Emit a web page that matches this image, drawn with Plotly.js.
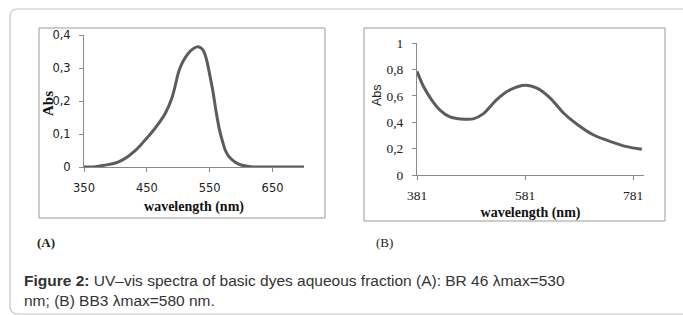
<!DOCTYPE html>
<html>
<head>
<meta charset="utf-8">
<script src="https://cdn.plot.ly/plotly-3.0.1.min.js"></script>
<style>html,body{margin:0;padding:0;background:#fff;}#chart{width:683px;height:315px;}</style>
</head>
<body>
<div id="chart"></div>
<script>
// Panel A: BR 46
var wavelengthA = [350, 365, 375, 390, 400, 410, 420, 430, 440, 450, 460, 470, 480, 490, 495, 500, 505, 510, 515, 520, 525, 530, 535, 540, 545, 550, 555, 560, 565, 570, 575, 580, 590, 600, 610, 620, 650, 700];
var absA =        [0, 0, 0.003, 0.008, 0.012, 0.02, 0.032, 0.047, 0.066, 0.088, 0.11, 0.135, 0.165, 0.21, 0.245, 0.285, 0.31, 0.328, 0.342, 0.353, 0.36, 0.364, 0.362, 0.352, 0.325, 0.28, 0.23, 0.17, 0.118, 0.08, 0.05, 0.033, 0.015, 0.006, 0.002, 0, 0, 0];
// Panel B: BB3
var wavelengthB = [381, 393, 408, 424, 442, 461, 485, 504, 528, 553, 582, 602, 627, 652, 677, 707, 738, 769, 797];
var absB =        [0.785, 0.67, 0.57, 0.49, 0.44, 0.425, 0.425, 0.465, 0.57, 0.645, 0.68, 0.66, 0.585, 0.47, 0.385, 0.305, 0.255, 0.215, 0.195];

var ticksA_x = [350, 450, 550, 650];
var ticksB_x = [381, 581, 781];
var titleX = 'wavelength (nm)';
var titleY = 'Abs';
var panelLabels = ['(A)', '(B)'];
var captionLine1 = '<b>Figure 2:</b> UV\u2013vis spectra of basic dyes aqueous fraction (A): BR 46 \u03bbmax=530';
var captionLine2 = 'nm; (B) BB3 \u03bbmax=580 nm.';

var W = 683, H = 315;
function px(x){ return x / W; }
function py(y){ return 1 - y / H; }

var lineColor = '#5c5c5c';
var axisColor = '#8a8a8a';
var serif = 'Liberation Serif, Times New Roman, serif';
var sans = 'Liberation Sans, Arial, sans-serif';

var traces = [
  {x: wavelengthA, y: absA, type: 'scatter', mode: 'lines', xaxis: 'x', yaxis: 'y',
   line: {color: lineColor, width: 3, shape: 'spline', smoothing: 0.7}, hoverinfo: 'skip'},
  {x: wavelengthB, y: absB, type: 'scatter', mode: 'lines', xaxis: 'x2', yaxis: 'y2',
   line: {color: lineColor, width: 3, shape: 'spline', smoothing: 0.8}, hoverinfo: 'skip'}
];

var baseAxis = {showgrid: false, zeroline: false, showline: true, linecolor: axisColor, linewidth: 1,
  ticks: 'outside', ticklen: 4, tickcolor: axisColor, tickwidth: 1, fixedrange: true};

var layout = {
  width: W, height: H,
  margin: {l: 0, r: 0, t: 0, b: 0},
  paper_bgcolor: '#fff', plot_bgcolor: 'rgba(0,0,0,0)',
  showlegend: false,
  separators: ', ',
  xaxis: Object.assign({}, baseAxis, {domain: [px(84), px(304)], range: [350, 700], anchor: 'y',
    tickvals: ticksA_x, ticklabelstandoff: 6, tickfont: {family: 'DejaVu Sans, sans-serif', size: 11.5, color: '#222'},
    title: {text: '<b>' + titleX + '</b>', font: {family: serif, size: 14, color: '#111'}, standoff: 7}}),
  yaxis: Object.assign({}, baseAxis, {domain: [py(167), py(35)], range: [0, 0.4], anchor: 'x',
    dtick: 0.1, tick0: 0, ticklabelstandoff: 6, tickfont: {family: 'DejaVu Sans, sans-serif', size: 11.5, color: '#222'}}),
  xaxis2: Object.assign({}, baseAxis, {domain: [px(417), px(644)], range: [381, 801], anchor: 'y2',
    tickvals: ticksB_x, ticklabelstandoff: 4, tickfont: {family: serif, size: 13.5, color: '#222'},
    title: {text: '<b>' + titleX + '</b>', font: {family: serif, size: 14, color: '#111'}, standoff: 4}}),
  yaxis2: Object.assign({}, baseAxis, {domain: [py(175), py(43)], range: [0, 1], anchor: 'x2',
    dtick: 0.2, tick0: 0, ticklabelstandoff: 6, tickfont: {family: serif, size: 13.5, color: '#222'}}),
  shapes: [
    {type: 'path', xref: 'paper', yref: 'paper',
     path: 'M ' + px(10) + ',' + py(17) + ' Q ' + px(10) + ',' + py(9) + ' ' + px(18) + ',' + py(9) +
           ' L ' + px(684) + ',' + py(9) + ' L ' + px(684) + ',' + py(314) + ' L ' + px(18) + ',' + py(314) +
           ' Q ' + px(10) + ',' + py(314) + ' ' + px(10) + ',' + py(306) + ' Z',
     line: {color: '#c4c4c4', width: 1.2}, fillcolor: 'rgba(0,0,0,0)', layer: 'below'},
    {type: 'rect', xref: 'paper', yref: 'paper', x0: px(39), x1: px(325), y0: py(218), y1: py(28),
     line: {color: '#9a9a9a', width: 1}, layer: 'below'},
    {type: 'rect', xref: 'paper', yref: 'paper', x0: px(364), x1: px(665), y0: py(221), y1: py(28),
     line: {color: '#9a9a9a', width: 1}, layer: 'below'}
  ],
  annotations: [
    {text: '<b>' + titleY + '</b>', xref: 'paper', yref: 'paper', x: px(48), y: py(104), textangle: -90,
     showarrow: false, xanchor: 'center', yanchor: 'middle', font: {family: serif, size: 15, color: '#111'}},
    {text: titleY, xref: 'paper', yref: 'paper', x: px(377), y: py(95), textangle: -90,
     showarrow: false, xanchor: 'center', yanchor: 'middle', font: {family: sans, size: 12.5, color: '#222'}},
    {text: '<b>' + panelLabels[0] + '</b>', xref: 'paper', yref: 'paper', x: px(35), y: py(242),
     showarrow: false, xanchor: 'left', yanchor: 'middle', font: {family: serif, size: 13, color: '#222'}},
    {text: panelLabels[1], xref: 'paper', yref: 'paper', x: px(374), y: py(242),
     showarrow: false, xanchor: 'left', yanchor: 'middle', font: {family: serif, size: 13, color: '#222'}},
    {text: captionLine1 + '<br>' + captionLine2, xref: 'paper', yref: 'paper', x: px(22), y: py(290.5),
     showarrow: false, xanchor: 'left', yanchor: 'middle', align: 'left',
     font: {family: sans, size: 15.5, color: '#333'}}
  ]
};

Plotly.newPlot('chart', traces, layout, {staticPlot: true, displayModeBar: false});
</script>
</body>
</html>
